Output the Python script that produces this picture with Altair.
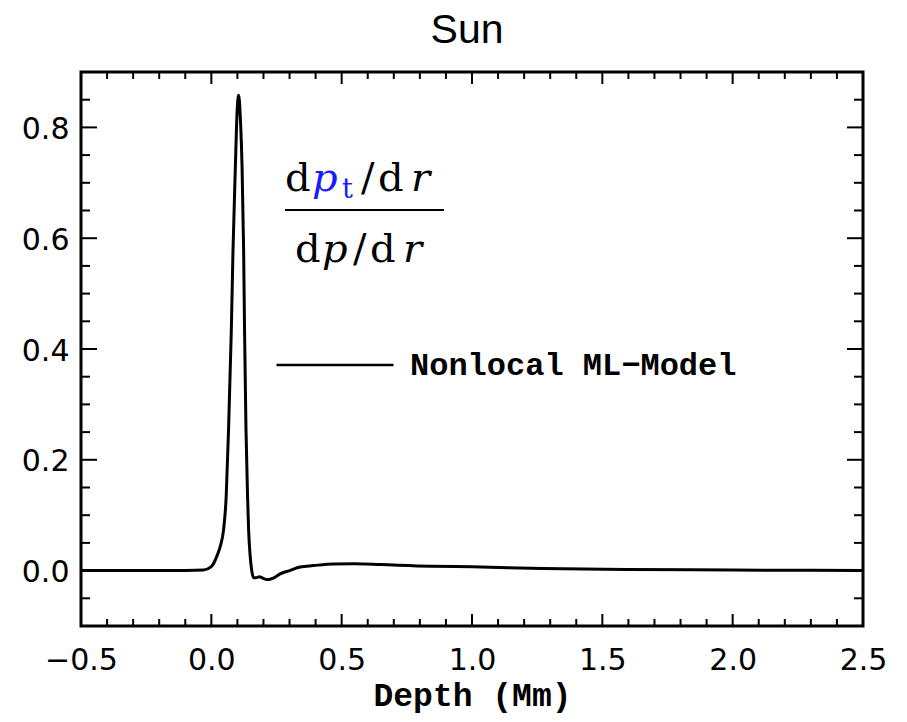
import altair as alt
import pandas as pd

# ---- data ----
depth = [-0.5, -0.3, -0.1, -0.03, 0.0, 0.022, 0.035, 0.047, 0.057, 0.066, 0.0765, 0.083,
         0.092, 0.099, 0.105, 0.111, 0.118, 0.124, 0.1275, 0.133, 0.139, 0.143, 0.149,
         0.155, 0.162, 0.172, 0.184, 0.195, 0.21, 0.222, 0.24, 0.264, 0.3, 0.341, 0.391,
         0.468, 0.55, 0.65, 0.84, 1.0, 1.27, 1.6, 2.0, 2.3, 2.5]
ratio = [0.0, 0.0, 0.0003, 0.001, 0.007, 0.027, 0.045, 0.074, 0.134, 0.254, 0.431, 0.575,
         0.726, 0.83, 0.858, 0.82, 0.726, 0.575, 0.431, 0.254, 0.134, 0.074, 0.026,
         0.0, -0.013, -0.013, -0.011, -0.013, -0.016, -0.016, -0.013, -0.006, 0.0, 0.0066,
         0.009, 0.012, 0.0125, 0.011, 0.008, 0.007, 0.0036, 0.002, 0.001, 0.0005, 0.0003]
series_name = "Nonlocal ML\u2212Model"

x_major = [-0.5, 0.0, 0.5, 1.0, 1.5, 2.0, 2.5]
x_minor = [round(-0.5 + 0.1 * i, 2) for i in range(31)]
x_minor = [v for v in x_minor if all(abs(v - m) > 1e-9 for m in x_major)]
y_major = [0.0, 0.2, 0.4, 0.6, 0.8]
y_minor = [-0.05, 0.05, 0.1, 0.15, 0.25, 0.3, 0.35, 0.45, 0.5, 0.55, 0.65, 0.7, 0.75, 0.85]

W, H = 782, 554
xdom = [-0.5, 2.5]
ydom = [-0.1, 0.9]

df = pd.DataFrame({"depth": depth, "ratio": ratio, "series": series_name})

xs = alt.Scale(domain=xdom, nice=False, zero=False)
ys = alt.Scale(domain=ydom, nice=False, zero=False)

x_axis = alt.Axis(values=x_major, format=".1f", grid=False, ticks=False, tickSize=0,
                  domain=False, labelFont="DejaVu Sans", labelFontSize=30,
                  labelColor="black", labelPadding=19, labelFlush=False,
                  title="Depth (Mm)", titleFont="Liberation Mono",
                  titleFontSize=33, titleFontWeight="bold", titleColor="black",
                  titleBaseline="alphabetic", titleY=79)
y_axis = alt.Axis(values=y_major, format=".1f", grid=False, ticks=False, tickSize=0,
                  domain=False, labelFont="DejaVu Sans", labelFontSize=30,
                  labelColor="black", labelPadding=12, labelFlush=False,
                  labelOffset=2, title="")

line = alt.Chart(df).mark_line(strokeWidth=3, interpolate="monotone").encode(
    x=alt.X("depth:Q", scale=xs, axis=x_axis),
    y=alt.Y("ratio:Q", scale=ys, axis=y_axis),
    color=alt.Color("series:N", scale=alt.Scale(range=["black"]),
                    legend=alt.Legend(orient="none", legendX=194, legendY=233, title=None,
                                      symbolType="stroke", symbolSize=13689,
                                      symbolStrokeWidth=2.6, symbolStrokeColor="black",
                                      labelFont="Liberation Mono", labelFontWeight="bold",
                                      labelFontSize=32, labelColor="black", labelOffset=15,
                                      labelLimit=600, padding=0)),
)


def xticks(values, length, top):
    d = pd.DataFrame({"depth": values})
    if top:
        yv, y2v = 0, length
    else:
        yv, y2v = H, H - length
    return alt.Chart(d).mark_rule(color="black", strokeWidth=2).encode(
        x=alt.X("depth:Q", scale=xs, axis=x_axis), y=alt.value(yv), y2=alt.value(y2v))


def yticks(values, length, right):
    d = pd.DataFrame({"ratio": values})
    if right:
        xv, x2v = W, W - length
    else:
        xv, x2v = 0, length
    return alt.Chart(d).mark_rule(color="black", strokeWidth=2).encode(
        y=alt.Y("ratio:Q", scale=ys, axis=y_axis), x=alt.value(xv), x2=alt.value(x2v))


ticks = [
    xticks(x_major, 12, False), xticks(x_minor, 7, False),
    xticks(x_major, 12, True), xticks(x_minor, 7, True),
    yticks(y_major, 16, False), yticks(y_minor, 9, False),
    yticks(y_major, 16, True), yticks(y_minor, 9, True),
]

one = pd.DataFrame({"k": [0]})


def piece(txt, px, py, size=40, color="black", italic=False, font="DejaVu Serif"):
    return alt.Chart(one).mark_text(
        text=txt, font=font, fontSize=size, color=color,
        fontStyle="italic" if italic else "normal", align="left", baseline="alphabetic"
    ).encode(x=alt.value(px), y=alt.value(py))


blue = "#1a1aff"
formula = [
    piece("d", 204, 119), piece("p", 231, 119, color=blue, italic=True),
    piece("t", 261, 126, size=27, color=blue), piece("/", 280, 119),
    piece("d", 297, 119), piece("r", 330, 119, italic=True),
    piece("d", 214, 190), piece("p", 241, 190, italic=True), piece("/", 272, 190),
    piece("d", 289, 190), piece("r", 322, 190, italic=True),
    alt.Chart(one).mark_rule(color="black", strokeWidth=2).encode(
        x=alt.value(204), x2=alt.value(363), y=alt.value(138)),
]

title = alt.Chart(one).mark_text(
    text="Sun", font="Liberation Sans", fontSize=41, color="black",
    align="center", baseline="alphabetic"
).encode(x=alt.value(W / 2 - 5), y=alt.value(-29))

chart = alt.layer(*ticks, line, *formula, title).properties(
    width=W, height=H,
    padding={"left": 73, "top": 64, "right": 32, "bottom": 88},
    autosize=alt.AutoSizeParams(type="none"),
    background="white",
).configure_view(stroke="black", strokeWidth=3)

chart.save("out.html", embed_options={"renderer": "svg", "actions": False})
